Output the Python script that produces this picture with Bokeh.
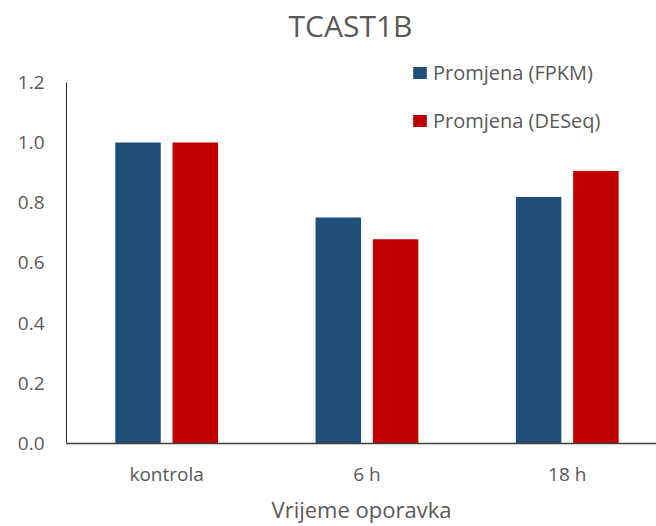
import numpy as np
from bokeh.plotting import figure
from bokeh.models import (ColumnDataSource, FixedTicker, Legend, LegendItem, Label,
                          PrintfTickFormatter, Range1d)
from bokeh.transform import dodge
from bokeh.embed import file_html
from bokeh.resources import INLINE

# ---- data ----
categories = ["kontrola", "6 h", "18 h"]
fpkm = [1.0, 0.751, 0.819]
deseq = [1.0, 0.679, 0.905]
y_ticks = [0.0, 0.2, 0.4, 0.6, 0.8, 1.0, 1.2]
series_names = ["Promjena (FPKM)", "Promjena (DESeq)"]
title_text = "TCAST1B"
x_title = "Vrijeme oporavka"

FONT = "Open Sans"
TEXT = "#595959"
BLUE = "#1F4E79"
RED = "#C00000"

x = np.arange(len(categories))
src = ColumnDataSource(dict(x=x, fpkm=fpkm, deseq=deseq))

# frame spans from the top of the canvas; the value axis is bounded to 0..1.2
p = figure(width=656, height=526, output_backend="svg", toolbar_location=None,
           x_range=Range1d(-0.5, 2.4456), y_range=Range1d(0, 1.4718),
           min_border_left=66, min_border_right=0, min_border_top=0, min_border_bottom=82)
p.outline_line_color = None
p.background_fill_color = "white"
p.border_fill_color = "white"
p.xgrid.visible = False
p.ygrid.visible = False

r1 = p.vbar(x=dodge("x", -0.143, range=p.x_range), top="fpkm", width=0.227, source=src,
            fill_color=BLUE, line_color=None)
r2 = p.vbar(x=dodge("x", 0.143, range=p.x_range), top="deseq", width=0.227, source=src,
            fill_color=RED, line_color=None)

# x axis
xa = p.xaxis[0]
xa.ticker = FixedTicker(ticks=[int(i) for i in x])
xa.major_label_overrides = {int(i): c for i, c in zip(x, categories)}
xa.major_tick_line_color = None
xa.minor_tick_line_color = None
xa.major_tick_out = 0
xa.major_tick_in = 0
xa.axis_line_color = "#404040"
xa.axis_line_width = 1.5
xa.major_label_standoff = 17
xa.major_label_text_font = FONT
xa.major_label_text_font_size = "19px"
xa.major_label_text_color = TEXT
xa.axis_label = x_title
xa.axis_label_text_font = FONT
xa.axis_label_text_font_size = "22px"
xa.axis_label_text_font_style = "normal"
xa.axis_label_text_color = TEXT
xa.axis_label_standoff = 4

# y axis
ya = p.yaxis[0]
ya.ticker = FixedTicker(ticks=y_ticks)
ya.bounds = (y_ticks[0], y_ticks[-1])
ya.formatter = PrintfTickFormatter(format="%.1f")
ya.major_tick_line_color = None
ya.minor_tick_line_color = None
ya.major_tick_out = 0
ya.major_tick_in = 0
ya.axis_line_color = "#262626"
ya.axis_line_width = 1
ya.major_label_standoff = 22
ya.major_label_text_font = FONT
ya.major_label_text_font_size = "19px"
ya.major_label_text_color = TEXT

# legend
legend = Legend(items=[LegendItem(label=series_names[0], renderers=[r1]),
                       LegendItem(label=series_names[1], renderers=[r2])],
                location=(345, 309), orientation="vertical",
                glyph_width=17, glyph_height=15, label_height=15,
                label_standoff=5, spacing=21, padding=0, margin=0,
                border_line_color=None, background_fill_alpha=0,
                label_text_font=FONT, label_text_font_size="20px",
                label_text_color=TEXT)
p.add_layout(legend)

# title
title = Label(x=284, y=418, x_units="screen", y_units="screen", text=title_text,
              text_align="center", text_baseline="alphabetic",
              text_font=FONT, text_font_size="30px", text_color=TEXT)
p.add_layout(title)

open("out.html", "w").write(file_html(p, INLINE))
